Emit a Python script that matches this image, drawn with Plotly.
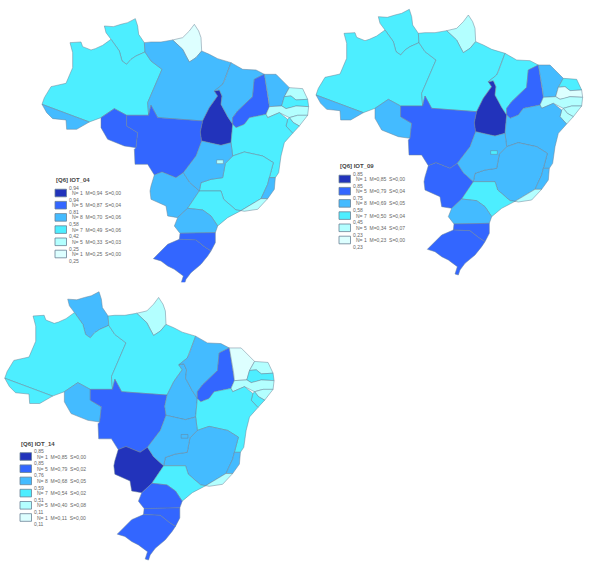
import plotly.graph_objects as go

W = 593
H = 571

# state outlines (same outline is reused for all three)
RR = [(205,50),(232,52),(255,45),(275,40),(298,28),(305,50),(308,75),(325,100),(327,128),(300,140),(285,150),(272,165),(258,155),(250,125),(225,90),(210,70)]
AP = [(410,92),(440,85),(460,65),(475,45),(488,65),(495,85),(497,125),(480,145),(460,158),(450,140),(440,120)]
AM = [(102,100),(135,98),(140,112),(165,122),(178,118),(200,108),(225,90),(250,125),(258,155),(272,165),(285,150),(300,140),(327,128),(345,155),(378,180),(360,220),(335,280),(338,318),(272,318),(235,298),(195,325),(160,338),(18,285),(25,265),(45,232),(90,222),(110,175),(110,130)]
AC = [(18,285),(160,338),(122,360),(92,360),(90,332),(50,328),(32,310)]
RO = [(195,325),(235,298),(272,318),(272,350),(305,370),(300,415),(265,410),(215,390),(195,355)]
PA = [(327,128),(325,100),(345,98),(375,98),(410,92),(440,120),(450,140),(460,158),(480,145),(497,125),(520,135),(545,148),(585,160),(565,215),(560,225),(535,245),(545,260),(530,280),(520,295),(500,335),(365,325),(345,288),(338,318),(335,280),(360,220),(378,180),(345,155)]
MT = [(272,318),(338,318),(345,288),(365,325),(500,335),(493,368),(497,395),(480,440),(442,490),(420,505),(378,488),(355,497),(335,465),(297,465),(295,420),(300,415),(305,370),(272,350)]
TO = [(535,245),(550,242),(558,260),(555,285),(575,322),(590,345),(585,400),(555,408),(540,405),(497,395),(493,368),(500,335),(520,295),(530,280),(545,260)]
MA = [(585,160),(620,180),(660,182),(685,195),(655,210),(650,262),(605,305),(590,325),(590,345),(575,322),(555,285),(558,260),(550,242),(535,245),(560,225),(565,215)]
PI = [(685,195),(698,270),(700,292),(690,315),(640,325),(625,345),(600,355),(590,345),(590,325),(605,305),(650,262),(655,210)]
CE = [(685,195),(720,195),(760,235),(745,262),(737,290),(700,292),(698,270)]
RN = [(760,235),(800,238),(815,270),(780,272),(765,260),(745,262)]
PB = [(745,262),(765,260),(780,272),(815,270),(818,292),(780,290),(765,295),(750,298),(737,290)]
PE = [(700,292),(737,290),(750,298),(765,295),(780,290),(818,292),(815,318),(785,318),(760,325),(730,310),(695,325),(690,315)]
AL = [(760,325),(785,318),(815,318),(790,350),(772,340)]
SE = [(755,330),(760,325),(772,340),(790,350),(770,372),(750,350)]
BA = [(600,355),(625,345),(640,325),(690,315),(695,325),(730,310),(755,330),(750,350),(770,372),(745,400),(735,440),(728,490),(718,505),(700,505),(712,460),(680,440),(625,428),(590,440),(585,400),(590,345)]
GO = [(497,395),(540,405),(555,408),(585,400),(590,440),(568,462),(560,505),(525,510),(495,520),(490,545),(460,518),(442,490),(480,440)]
DF = [(542,452),(562,452),(562,463),(542,463)]
MG = [(590,440),(625,428),(680,440),(712,460),(700,505),(695,525),(675,568),(640,590),(615,604),(600,602),(580,585),(563,570),(555,545),(490,545),(495,520),(525,510),(560,505),(568,462)]
ES = [(700,505),(718,505),(715,540),(695,568),(675,568),(695,525)]
RJ = [(675,568),(695,568),(665,600),(625,606),(615,604),(640,590)]
MS = [(378,488),(420,505),(442,490),(460,518),(490,545),(455,597),(425,625),(395,620),(390,590),(345,570),(342,545),(345,530),(355,497)]
SP = [(490,545),(555,545),(563,570),(580,585),(600,602),(615,604),(575,625),(545,650),(525,620),(500,602),(455,597)]
PR = [(455,597),(500,602),(525,620),(545,650),(538,670),(432,672),(415,650),(425,625)]
SC = [(432,672),(538,670),(538,700),(525,725),(505,712),(480,692),(430,690)]
RS = [(430,690),(480,692),(505,712),(525,725),(515,740),(495,765),(465,790),(450,810),(445,825),(435,822),(442,800),(415,780),(395,770),(375,755),(352,748),(395,705)]

states = [RR, AP, AM, AC, RO, PA, MT, TO, MA, PI, CE, RN, PB, PE, AL, SE, BA, MG, ES, RJ, MS, SP, PR, SC, RS, GO, DF]
# class of each state per map, 1 = darkest
classes_04 = [4, 6, 4, 3, 2, 3, 2, 1, 3, 2, 3, 5, 4, 5, 5, 4, 4, 4, 3, 5, 3, 4, 3, 2, 2, 3, 5]
classes_09 = [4, 5, 4, 3, 3, 4, 2, 1, 4, 2, 3, 4, 6, 5, 5, 5, 3, 3, 3, 5, 2, 4, 3, 2, 2, 3, 4]
classes_14 = [3, 5, 4, 4, 3, 4, 2, 3, 3, 2, 6, 5, 4, 5, 5, 4, 4, 3, 3, 5, 1, 4, 2, 2, 2, 3, 3]

class_colors = ["#2233BB", "#3366FF", "#44BBFF", "#4DEEFF", "#B3FFFF", "#DDFFFF"]

titles = ["[Q6] IOT_04", "[Q6] IOT_09", "[Q6] IOT_14"]
breaks_04 = ["0,94", "0,94", "0,81", "0,58", "0,42", "0,25", "0,25"]
breaks_09 = ["0,85", "0,85", "0,75", "0,58", "0,45", "0,23", "0,23"]
breaks_14 = ["0,85", "0,85", "0,76", "0,59", "0,51", "0,11", "0,11"]
counts = [1, 5, 8, 7, 5, 1]
means_04 = ["0,94", "0,87", "0,70", "0,49", "0,33", "0,25"]
means_09 = ["0,85", "0,79", "0,69", "0,50", "0,34", "0,23"]
means_14 = ["0,85", "0,79", "0,68", "0,54", "0,40", "0,11"]
sds_04 = ["0,00", "0,04", "0,06", "0,06", "0,03", "0,00"]
sds_09 = ["0,00", "0,04", "0,05", "0,04", "0,07", "0,00"]
sds_14 = ["0,00", "0,02", "0,05", "0,02", "0,08", "0,00"]

# where each map and its key sit on the page: x offset, y offset, scale, key x, key title y
panels = [
    dict(cl=classes_04, br=breaks_04, me=means_04, sd=sds_04, ox=36, oy=9.3, s=1.0, kx=55, ky=180),
    dict(cl=classes_09, br=breaks_09, me=means_09, sd=sds_09, ox=310, oy=0, s=1.0, kx=339, ky=166),
    dict(cl=classes_14, br=breaks_14, me=means_14, sd=sds_14, ox=-1.3, oy=282.3, s=1.01, kx=20, ky=443.5),
]

fig = go.Figure()
shapes = []
annotations = []
layout_axes = {}
EXT_X = 840
EXT_Y = 840

def px_x(v):
    return v / W

def px_y(v):
    return 1 - v / H

for i, p in enumerate(panels):
    suffix = "" if i == 0 else str(i + 1)
    left = p["ox"]
    top = p["oy"]
    right = left + EXT_X * p["s"] / 3
    bottom = top + EXT_Y * p["s"] / 3
    # keep domains inside the page, trim the range with them
    x0 = max(left, 0)
    x1 = min(right, W)
    layout_axes["xaxis" + suffix] = dict(
        domain=[px_x(x0), px_x(x1)],
        range=[(x0 - left) * 3 / p["s"], (x1 - left) * 3 / p["s"]],
        visible=False, fixedrange=True,
    )
    layout_axes["yaxis" + suffix] = dict(
        domain=[px_y(bottom), px_y(top)],
        range=[EXT_Y, 0],
        visible=False, fixedrange=True,
    )
    for pts, c in zip(states, p["cl"]):
        fig.add_trace(go.Scatter(
            x=[q[0] for q in pts] + [pts[0][0]],
            y=[q[1] for q in pts] + [pts[0][1]],
            mode="lines",
            fill="toself",
            fillcolor=class_colors[c - 1],
            line=dict(color="#6A8296", width=0.5),
            xaxis="x" + suffix,
            yaxis="y" + suffix,
            hoverinfo="skip",
            showlegend=False,
        ))

    kx = p["kx"]
    ky = p["ky"]
    annotations.append(dict(
        x=px_x(kx - 1), y=px_y(ky), xref="paper", yref="paper", text="<b>" + titles[i] + "</b>",
        showarrow=False, xanchor="left", yanchor="middle",
        font=dict(family="Liberation Sans", size=6, color="#444444"),
    ))
    for k in range(6):
        yc = ky + 13 + k * 12.2
        shapes.append(dict(
            type="rect", xref="paper", yref="paper",
            x0=px_x(kx), x1=px_x(kx + 11.5), y0=px_y(yc - 3.8), y1=px_y(yc + 3.8),
            fillcolor=class_colors[k], line=dict(color="#6A8296", width=0.8),
        ))
        line = "N= %d  M=%s  S=%s" % (counts[k], p["me"][k], p["sd"][k])
        annotations.append(dict(
            x=px_x(kx + 15), y=px_y(yc), xref="paper", yref="paper", text=line,
            showarrow=False, xanchor="left", yanchor="middle",
            font=dict(family="Liberation Sans", size=5, color="#666666"),
        ))
    for k, b in enumerate(p["br"]):
        annotations.append(dict(
            x=px_x(kx + 12), y=px_y(ky + 7.5 + k * 12.2), xref="paper", yref="paper", text=b,
            showarrow=False, xanchor="left", yanchor="middle",
            font=dict(family="Liberation Sans", size=5, color="#666666"),
        ))

fig.update_layout(
    width=W, height=H,
    margin=dict(l=0, r=0, t=0, b=0),
    paper_bgcolor="white", plot_bgcolor="white",
    showlegend=False,
    shapes=shapes,
    annotations=annotations,
    **layout_axes,
)
fig.write_html("out.html", config=dict(displayModeBar=False),
               post_script="document.body.style.margin='0';")
